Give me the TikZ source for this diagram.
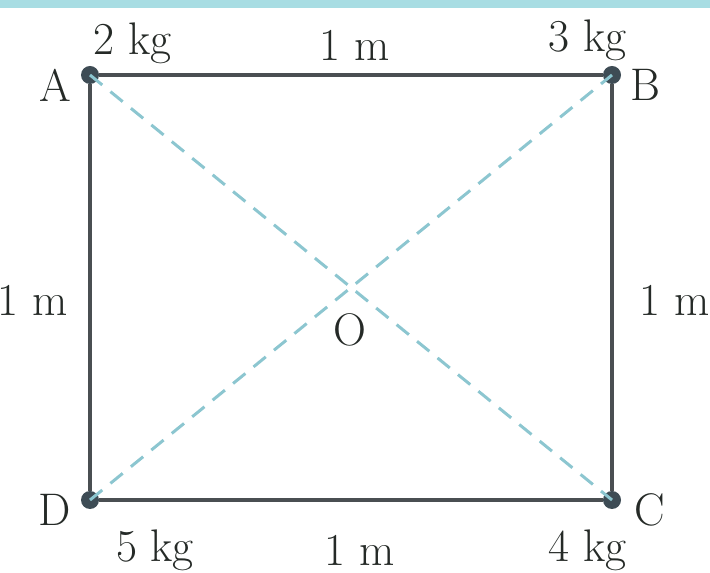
\documentclass[tikz,border=0pt]{standalone}
\usepackage{tikz}
\usetikzlibrary{positioning}
\definecolor{bandCyan}{HTML}{A8DDE3}
\definecolor{lineDark}{HTML}{4A4F52}
\definecolor{diagBlue}{HTML}{8CC6D0}
\definecolor{dotDark}{HTML}{3E4C55}
\definecolor{textDark}{HTML}{252A27}

\begin{document}
\begin{tikzpicture}[
    mass/.style={circle, fill=dotDark, inner sep=0pt, minimum size=0.36cm},
    side/.style={line width=1.9pt, lineDark},
    diag/.style={line width=1.7pt, diagBlue, dash pattern=on 9pt off 6pt},
    label/.style={font=\fontsize{26}{30}\selectfont, text=textDark, inner sep=0pt},
]
    % Frame and top band
    \useasboundingbox (0,0) rectangle (14.2,11.46);
    \fill[bandCyan] (0,11.30) rectangle (14.2,11.46);

    % Masses at the corners
    \node[mass] (A) at (1.8,9.96) {};
    \node[mass] (B) at (12.24,9.96) {};
    \node[mass] (C) at (12.24,1.46) {};
    \node[mass] (D) at (1.8,1.46) {};

    % Diagonals
    \draw[diag] (A.center) -- (C.center);
    \draw[diag] (D.center) -- (B.center);

    % Sides
    \draw[side] (A) -- (B);
    \draw[side] (B) -- (C);
    \draw[side] (C) -- (D);
    \draw[side] (D) -- (A);

    % Corner names
    \node[label] (nA) at (1.1,9.76) {A};
    \node[label] (nB) at (12.9,9.76) {B};
    \node[label] (nC) at (13.0,1.26) {C};
    \node[label] (nD) at (1.1,1.26) {D};
    \node[label] (nO) at (7.0,4.86) {O};

    % Masses
    \node[label] (mA) at (2.65,10.6) {2 kg};
    \node[label] (mB) at (11.75,10.66) {3 kg};
    \node[label] (mC) at (11.75,0.46) {4 kg};
    \node[label] (mD) at (3.1,0.46) {5 kg};

    % Side lengths
    \node[label] (lAB) at (7.1,10.56) {1 m};
    \node[label] (lCD) at (7.2,0.46) {1 m};
    \node[label] (lDA) at (0.65,5.46) {1 m};
    \node[label] (lBC) at (13.5,5.46) {1 m};
\end{tikzpicture}
\end{document}
